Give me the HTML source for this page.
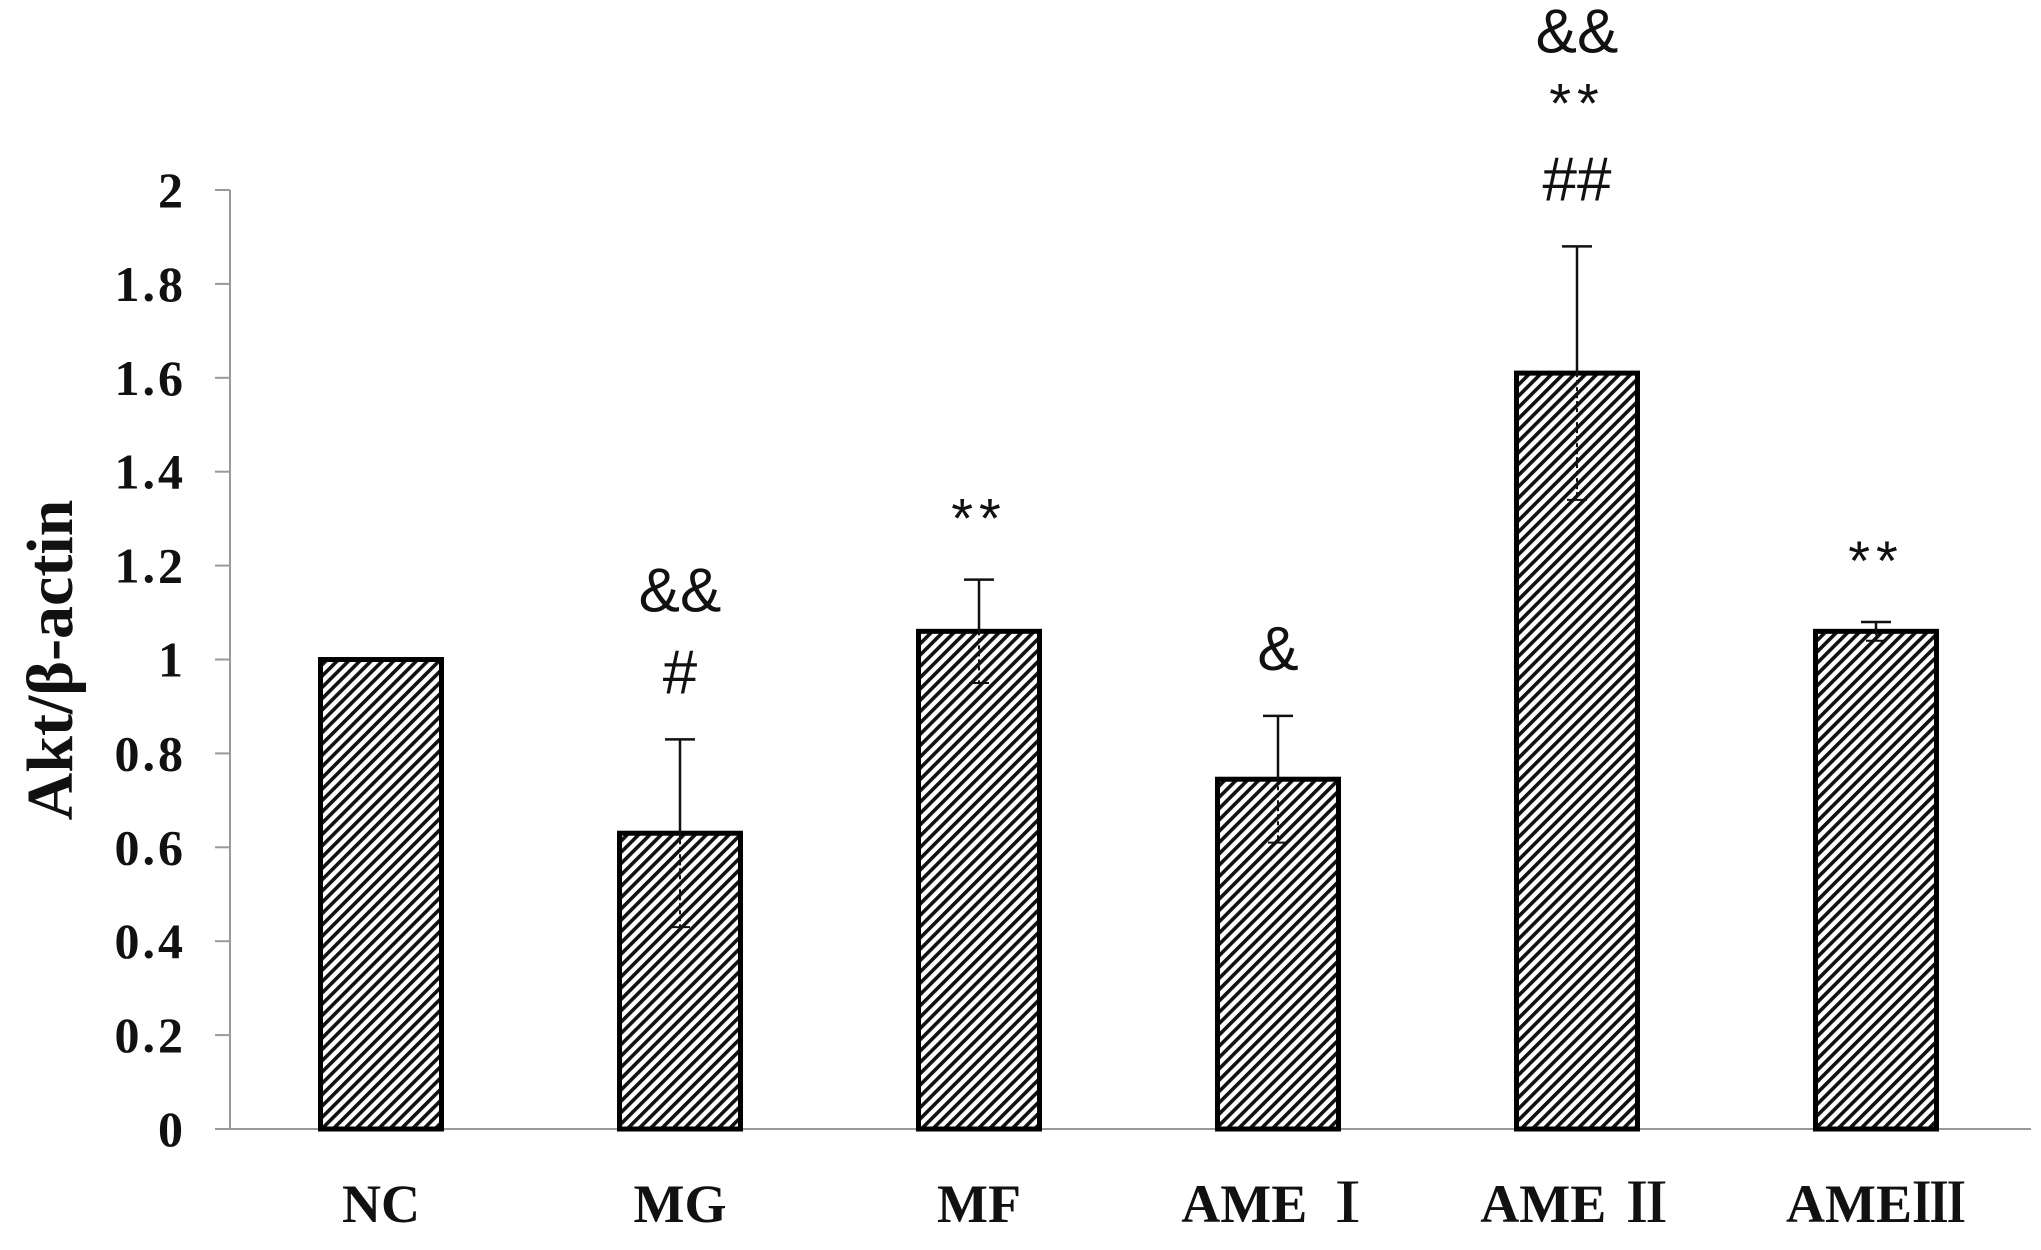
<!DOCTYPE html>
<html><head><meta charset="utf-8"><style>
html,body{margin:0;padding:0;background:#fff;}
svg{display:block;}
</style></head><body>
<svg id="chart" width="2041" height="1250" viewBox="0 0 2041 1250" xmlns="http://www.w3.org/2000/svg">
<defs>
<pattern id="hatch" patternUnits="userSpaceOnUse" width="8" height="8" patternTransform="rotate(45)">
<rect width="8" height="8" fill="#fff"/>
<rect x="0" y="0" width="3.6" height="8" fill="#111"/>
</pattern>
</defs>
<g id="axes"></g>
<g id="bars"></g>
<g id="annots"></g>
</svg>
<script>
const categories = ["NC", "MG", "MF", "AME Ⅰ", "AME Ⅱ", "AMEⅢ"];
const values = [1.0, 0.63, 1.06, 0.745, 1.61, 1.06];
const errors = [0, 0.20, 0.11, 0.135, 0.27, 0.02];
const yTicks = [0, 0.2, 0.4, 0.6, 0.8, 1, 1.2, 1.4, 1.6, 1.8, 2];
const annotations = [[], ["#", "&&"], ["**"], ["&"], ["##", "**", "&&"], ["**"]];

const NS = "http://www.w3.org/2000/svg";
const X0 = 230, X1 = 2031, Y0 = 1129, YTOP = 190, YMAX = 2;
const step = 299, firstC = 381, barW = 121;
function y(v){ return Y0 - (v / YMAX) * (Y0 - YTOP); }
function xc(i){ return firstC + i * step; }
function mk(tag, attrs, parent){ const e = document.createElementNS(NS, tag); for (const k in attrs) e.setAttribute(k, attrs[k]); parent.appendChild(e); return e; }

const axes = document.getElementById('axes');
const yAxis = mk('line', {x1:X0, y1:YTOP, x2:X0, y2:Y0, stroke:'#999', 'stroke-width':2}, axes);


const xAxis = mk('line', {x1:X0-15, y1:Y0, x2:X1, y2:Y0, stroke:'#999', 'stroke-width':2}, axes);


yTicks.forEach(t => {
  const tk = mk('line', {x1:X0-15, y1:y(t), x2:X0, y2:y(t), stroke:'#999', 'stroke-width':2}, axes);
  
  
  const lb = mk('text', {x:186, y:y(t)+17, 'text-anchor':'end', 'font-family':'Liberation Serif, serif', 'font-weight':'bold', 'font-size':50, 'letter-spacing':3, fill:'#111'}, axes);
  lb.textContent = String(t);
  
  
});
const yt = mk('text', {x:0, y:0, transform:'translate(72,660) rotate(-90)', 'text-anchor':'middle', 'font-family':'Liberation Serif, serif', 'font-weight':'bold', 'font-size':66, fill:'#111'}, axes);
yt.textContent = 'Akt/β-actin';



const bars = document.getElementById('bars');
const ann = document.getElementById('annots');
categories.forEach((c, i) => {
  const cx = xc(i), top = y(values[i]);
  const r = mk('rect', {x:cx-barW/2, y:top, width:barW, height:Y0-top, fill:'url(#hatch)', stroke:'#000', 'stroke-width':5}, bars);
  
  
  if (errors[i] > 0) {
    const eu = y(values[i] + errors[i]), el = y(values[i] - errors[i]);
    const g = mk('g', {}, bars);
    
    
    mk('line', {x1:cx, y1:eu, x2:cx, y2:top, stroke:'#111', 'stroke-width':2.5}, g);
    mk('line', {x1:cx-15, y1:eu, x2:cx+15, y2:eu, stroke:'#111', 'stroke-width':2.5}, g);
    mk('line', {x1:cx, y1:top, x2:cx, y2:el, stroke:'#111', 'stroke-width':2, 'stroke-dasharray':'4 3'}, g);
    mk('line', {x1:cx-10, y1:el, x2:cx+10, y2:el, stroke:'#111', 'stroke-width':2}, g);
  }
  const lb = mk('text', {x:cx, y:1222, 'text-anchor':'middle', 'font-family':'Liberation Serif, "Noto Serif CJK SC", serif', 'font-weight':'bold', 'font-size':54, fill:'#111'}, bars);
  lb.textContent = c;
  
  
  let base = y(values[i] + errors[i]) - 66;
  annotations[i].forEach((a, k) => {
    const isStar = a === '**';
    const t = mk('text', {x:cx, y:base + (isStar ? 24 : 20), 'text-anchor':'middle', 'font-family':'Liberation Sans, sans-serif', 'font-size':isStar ? 56 : 62, 'letter-spacing':isStar ? 6 : 0, fill:'#111'}, ann);
    t.textContent = a;
    
    
    base -= (isStar ? 66 : 82);
  });
});
</script>
</body></html>
